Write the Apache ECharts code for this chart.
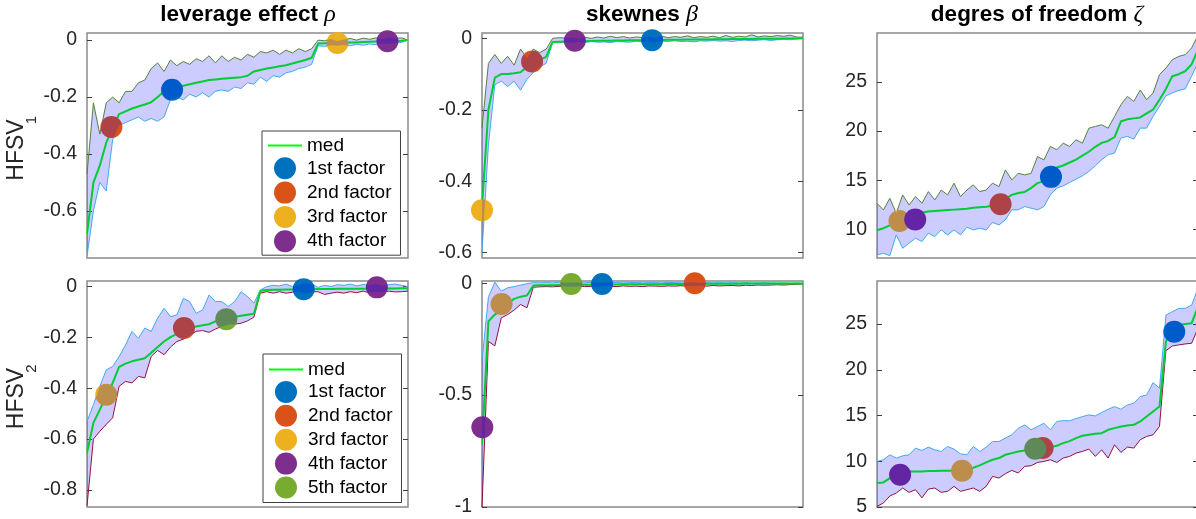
<!DOCTYPE html>
<html><head><meta charset="utf-8">
<script src="https://cdn.jsdelivr.net/npm/echarts@6/dist/echarts.min.js"></script>
<style>html,body{margin:0;padding:0;background:#fff}#c{width:1196px;height:519px}</style>
</head><body><div id="c"></div>
<script>
// ---------- DATA ----------
const xGrid = [0,2,4,6,8,10,12,14,16,18,20,22,24,26,28,30,32,34,36,38,40,42,44,46,48,50,52,54,56,58,60,62,64,66,68,70,72,74,76,78,80,82,84,86,88,90,92,94,96,98,100];

const titles = ['leverage effect', 'skewnes', 'degres of freedom'];
const greek = ['ρ', 'β', 'ζ'];
const rowLabels = ['HFSV', 'HFSV'];
const rowSubs = ['1', '2'];
const factorNames = ['1st factor','2nd factor','3rd factor','4th factor','5th factor'];

// Panel 1: leverage effect, HFSV1
const p1Med = [-0.68,-0.5,-0.44,-0.36,-0.31,-0.26,-0.25,-0.24,-0.233,-0.226,-0.218,-0.2,-0.18,-0.17,-0.165,-0.16,-0.155,-0.15,-0.145,-0.14,-0.138,-0.136,-0.134,-0.132,-0.13,-0.125,-0.11,-0.105,-0.1,-0.096,-0.092,-0.088,-0.082,-0.076,-0.07,-0.062,-0.012,-0.011,-0.01,-0.01,-0.009,-0.008,-0.008,-0.007,-0.006,-0.005,-0.004,-0.003,-0.003,-0.002,0];
const p1Up = [-0.47,-0.22,-0.33,-0.22,-0.2,-0.22,-0.18,-0.18,-0.15,-0.14,-0.1,-0.08,-0.11,-0.07,-0.09,-0.075,-0.085,-0.065,-0.075,-0.055,-0.08,-0.055,-0.075,-0.06,-0.07,-0.05,-0.06,-0.04,-0.045,-0.035,-0.05,-0.035,-0.045,-0.03,-0.04,-0.03,0.0,-0.002,0.004,-0.003,0.002,0.006,0.0,0.007,0.003,0.008,0.004,0.01,0.006,0.008,0];
const p1Lo = [-0.76,-0.6,-0.5,-0.53,-0.35,-0.3,-0.29,-0.28,-0.27,-0.285,-0.275,-0.285,-0.27,-0.21,-0.2,-0.21,-0.19,-0.2,-0.185,-0.2,-0.18,-0.175,-0.18,-0.165,-0.17,-0.15,-0.155,-0.13,-0.145,-0.125,-0.13,-0.115,-0.11,-0.1,-0.095,-0.085,-0.02,-0.022,-0.018,-0.02,-0.017,-0.02,-0.015,-0.018,-0.014,-0.016,-0.012,-0.014,-0.01,-0.008,0];
const p1DotX = [26.5, 7.6, 78, 93.6];
const p1DotY = [-0.174, -0.305, -0.01, -0.004];
const p1Ticks = [0, -0.2, -0.4, -0.6];

// Panel 2: skewness, HFSV1
const p2Med = [-0.47,-0.2,-0.11,-0.1,-0.1,-0.098,-0.095,-0.08,-0.066,-0.06,-0.052,-0.01,-0.0095,-0.009,-0.0085,-0.008,-0.008,-0.0075,-0.007,-0.007,-0.0065,-0.006,-0.006,-0.0055,-0.005,-0.005,-0.0048,-0.0045,-0.0043,-0.004,-0.004,-0.0038,-0.0035,-0.0033,-0.003,-0.003,-0.0028,-0.0025,-0.0023,-0.002,-0.002,-0.0018,-0.0016,-0.0014,-0.0012,-0.001,-0.0008,-0.0006,-0.0004,-0.0002,0];
const p2Up = [-0.25,-0.07,-0.045,-0.07,-0.05,-0.075,-0.03,-0.055,-0.03,-0.04,-0.03,0.0,0.002,0.001,0.003,-0.001,0.003,0.0,0.004,0.001,0.006,0.002,0.005,0.001,0.004,0.002,0.005,0.001,0.006,0.002,0.005,0.003,0.007,0.002,0.005,0.003,0.006,0.002,0.008,0.003,0.006,0.004,0.01,0.004,0.007,0.005,0.008,0.006,0.009,0.004,0.003];
const p2Lo = [-0.6,-0.3,-0.13,-0.12,-0.135,-0.12,-0.145,-0.115,-0.095,-0.08,-0.07,-0.012,-0.012,-0.011,-0.013,-0.01,-0.012,-0.009,-0.011,-0.01,-0.012,-0.009,-0.01,-0.011,-0.008,-0.01,-0.009,-0.011,-0.008,-0.009,-0.007,-0.009,-0.008,-0.01,-0.007,-0.008,-0.006,-0.008,-0.007,-0.009,-0.006,-0.005,-0.007,-0.005,-0.004,-0.006,-0.004,-0.003,-0.004,-0.002,-0.001];
const p2DotX = [53, 15.6, 0, 28.9];
const p2DotY = [-0.005, -0.065, -0.481, -0.0065];
const p2Ticks = [0, -0.2, -0.4, -0.6];

// Panel 3: degrees of freedom, HFSV1
const p3Med = [9.9,10.1,10.4,10.8,11.2,11.5,11.6,11.7,11.8,11.85,11.9,11.95,12.0,12.05,12.1,12.2,12.25,12.3,12.4,12.8,13.1,13.5,13.7,13.8,14.2,14.7,14.9,15.8,16.3,16.5,16.8,17.1,17.5,17.9,18.4,18.8,19.0,19.4,21.0,21.2,21.3,21.4,21.8,22.2,23.2,24.3,25.6,25.8,26.1,26.8,28.3];
const p3Up = [12.65,11.97,13.16,11.63,13.5,12.48,13.33,12.65,13.84,12.99,14.0,13.5,14.7,13.33,14.0,14.52,13.84,14.0,14.7,14.35,16.05,15.03,15.71,15.54,15.71,17.41,17.07,18.44,18.1,18.78,18.44,19.12,18.78,20.3,20.48,20.65,20.3,21.5,22.7,23.54,23.03,24.2,23.2,23.88,25.75,26.43,27.28,27.62,27.79,28.47,29.8];
const p3Lo = [7.38,7.55,7.3,9.42,8.06,8.57,9.08,8.74,9.59,9.25,9.93,9.42,9.93,9.42,10.2,9.93,10.1,9.93,10.68,10.44,10.95,11.97,11.97,12.31,12.14,11.97,12.31,13.5,14.18,14.42,14.76,15.1,15.44,15.88,16.46,17.07,17.59,17.76,19.29,19.46,19.18,20.3,20.3,21.5,22.52,23.6,23.88,24.15,24.29,25.58,26.94];
const p3DotX = [54.2, 38.5, 7.0, 11.9];
const p3DotY = [15.34, 12.55, 10.85, 11.0];
const p3Ticks = [10, 15, 20, 25];

// Panel 4: leverage effect, HFSV2
const p4Med = [-0.654,-0.536,-0.484,-0.431,-0.379,-0.316,-0.303,-0.294,-0.288,-0.282,-0.26,-0.238,-0.216,-0.199,-0.186,-0.17,-0.163,-0.157,-0.152,-0.148,-0.137,-0.131,-0.124,-0.119,-0.115,-0.111,-0.107,-0.016,-0.013,-0.012,-0.012,-0.011,-0.011,-0.0105,-0.01,-0.01,-0.009,-0.009,-0.009,-0.0088,-0.0086,-0.0084,-0.0082,-0.008,-0.0078,-0.0076,-0.0074,-0.0072,-0.0072,-0.007,-0.007];
const p4Up = [-0.53,-0.464,-0.392,-0.327,-0.314,-0.275,-0.229,-0.176,-0.203,-0.163,-0.176,-0.124,-0.085,-0.118,-0.111,-0.046,-0.059,-0.105,-0.092,-0.033,-0.059,-0.059,-0.078,-0.059,-0.02,-0.039,-0.065,-0.013,0,0.005,0.003,0.01,0,0.007,0.016,0.01,-0.003,0.005,0,0.008,0.005,0.01,0.003,0.008,0.005,0.01,0.003,0.008,0.01,0.005,0];
const p4Lo = [-0.863,-0.6,-0.569,-0.542,-0.516,-0.392,-0.373,-0.379,-0.353,-0.359,-0.275,-0.251,-0.268,-0.238,-0.216,-0.207,-0.193,-0.176,-0.173,-0.18,-0.167,-0.157,-0.15,-0.148,-0.144,-0.135,-0.12,-0.026,-0.02,-0.026,-0.02,-0.026,-0.022,-0.021,-0.026,-0.021,-0.02,-0.031,-0.026,-0.022,-0.026,-0.02,-0.024,-0.018,-0.024,-0.02,-0.021,-0.018,-0.021,-0.02,-0.018];
const p4DotX = [67.5, 30.2, 6.0, 90.3, 43.4];
const p4DotY = [-0.01, -0.163, -0.425, -0.003, -0.128];
const p4Ticks = [0, -0.2, -0.4, -0.6, -0.8];

// Panel 5: skewness, HFSV2
const p5Med = [-0.72,-0.17,-0.14,-0.12,-0.09,-0.07,-0.06,-0.055,-0.01,-0.009,-0.009,-0.0085,-0.008,-0.008,-0.0075,-0.007,-0.007,-0.0065,-0.006,-0.006,-0.0055,-0.0055,-0.005,-0.005,-0.0048,-0.0046,-0.0044,-0.0042,-0.004,-0.0038,-0.0036,-0.0034,-0.0032,-0.003,-0.0028,-0.0026,-0.0024,-0.0022,-0.002,-0.0019,-0.0018,-0.0017,-0.0016,-0.0015,-0.0014,-0.0013,-0.0012,-0.0011,-0.001,-0.0009,-0.0008];
const p5Up = [-0.344,-0.06,0.005,-0.035,-0.02,-0.015,-0.008,-0.002,0.003,0.002,0.003,0.002,0.004,0.002,0.003,0.003,0.002,0.004,0.003,0.002,0.004,0.003,0.002,0.003,0.004,0.002,0.003,0.003,0.002,0.004,0.003,0.002,0.003,0.004,0.002,0.003,0.002,0.003,0.002,0.003,0.002,0.003,0.002,0.002,0.003,0.002,0.002,0.002,0.001,0.002,0.001];
const p5Lo = [-1.0,-0.26,-0.28,-0.155,-0.14,-0.12,-0.095,-0.11,-0.018,-0.016,-0.015,-0.016,-0.014,-0.015,-0.016,-0.013,-0.015,-0.014,-0.016,-0.013,-0.014,-0.015,-0.012,-0.014,-0.013,-0.015,-0.012,-0.013,-0.014,-0.012,-0.013,-0.011,-0.014,-0.012,-0.011,-0.013,-0.01,-0.012,-0.011,-0.01,-0.012,-0.009,-0.01,-0.008,-0.009,-0.008,-0.007,-0.008,-0.006,-0.005,-0.004];
const p5DotX = [37.4, 66.3, 6.1, 0.1, 27.8];
const p5DotY = [-0.003, 0, -0.093, -0.644, -0.003];
const p5Ticks = [0, -0.5, -1];

// Panel 6: degrees of freedom, HFSV2
const p6Med = [7.62,7.69,8.16,8.64,8.82,8.89,8.89,8.89,8.93,8.93,8.96,8.96,9.0,9.04,9.15,9.29,9.55,9.87,10.16,10.35,10.71,10.89,11.07,11.18,11.25,11.4,11.51,11.55,11.69,11.98,12.2,12.53,12.78,12.89,13.0,13.07,13.44,13.62,13.8,13.91,13.98,14.35,14.89,15.44,15.98,23.07,24.7,24.89,25.0,25.07,26.9];
const p6Up = [9.98,10.16,10.71,10.35,10.6,10.71,11.44,11.18,11.55,11.25,11.07,11.62,11.33,10.82,10.71,11.62,11.07,11.55,12.16,12.16,12.53,12.89,13.62,13.98,13.44,13.8,14.16,13.44,14.35,14.45,14.42,14.67,14.89,15.07,14.96,15.33,15.69,15.98,15.69,16.16,16.35,17.07,17.25,18.6,18.0,25.98,26.35,26.71,26.71,27.07,28.9];
const p6Lo = [5.07,5.44,6.2,6.53,7.07,6.6,6.89,6.0,6.96,7.07,6.6,6.71,7.25,6.71,6.89,7.07,6.71,7.25,8.35,8.16,8.64,9.0,8.71,9.44,9.51,9.87,9.98,10.16,9.87,10.35,10.53,10.89,11.07,11.33,10.53,11.25,10.35,11.8,10.96,11.55,11.44,12.35,12.71,12.89,13.8,22.09,22.6,22.71,22.82,22.89,24.53];
const p6DotX = [92.6, 51.6, 26.5, 7.2, 49.3];
const p6DotY = [24.16, 11.44, 8.96, 8.53, 11.36];
const p6Ticks = [5, 10, 15, 20, 25];

// ---------- STYLE / LAYOUT ----------
const FONT = '"Liberation Sans", Arial, Helvetica, sans-serif';
const factorColors = ['#0072BD','#D95319','#EDB120','#7E2F8E','#77AC30'];
const medColor = '#00ff00';
const bandColor = 'rgba(0,0,255,0.2)';

const panels = [
  {med:p1Med, up:p1Up, lo:p1Lo, dx:p1DotX, dy:p1DotY, ticks:p1Ticks, yMin:-0.765, yMax:0.025, upC:'#5f8f2f', loC:'#4DBEEE', box:{left:87, top:33, width:321, height:225}},
  {med:p2Med, up:p2Up, lo:p2Lo, dx:p2DotX, dy:p2DotY, ticks:p2Ticks, yMin:-0.615, yMax:0.015, upC:'#5f8f2f', loC:'#4DBEEE', box:{left:482, top:33, width:321, height:225}},
  {med:p3Med, up:p3Up, lo:p3Lo, dx:p3DotX, dy:p3DotY, ticks:p3Ticks, yMin:7.07, yMax:30.0, upC:'#5f8f2f', loC:'#4DBEEE', box:{left:877, top:33, width:321, height:225}},
  {med:p4Med, up:p4Up, lo:p4Lo, dx:p4DotX, dy:p4DotY, ticks:p4Ticks, yMin:-0.867, yMax:0.022, upC:'#4DBEEE', loC:'#A2142F', box:{left:87, top:281, width:321, height:226}},
  {med:p5Med, up:p5Up, lo:p5Lo, dx:p5DotX, dy:p5DotY, ticks:p5Ticks, yMin:-1.0, yMax:0.01, upC:'#4DBEEE', loC:'#A2142F', box:{left:482, top:281, width:321, height:226}},
  {med:p6Med, up:p6Up, lo:p6Lo, dx:p6DotX, dy:p6DotY, ticks:p6Ticks, yMin:5, yMax:29.7, upC:'#4DBEEE', loC:'#A2142F', box:{left:877, top:281, width:321, height:226}}
];

const zip = (xs, ys) => xs.map((x, i) => [x, ys[i]]);

const grid = [], xAxis = [], yAxis = [], series = [];
panels.forEach((p, i) => {
  grid.push(Object.assign({show:true, borderColor:'#8a8a8a', borderWidth:1.5, backgroundColor:'transparent', containLabel:false, outerBoundsMode:'none'}, p.box));
  xAxis.push({gridIndex:i, type:'value', min:0, max:100, show:false});
  const tickStyle = {show:true, inside:true, length:5, customValues:p.ticks, lineStyle:{color:'#404040', width:1}};
  yAxis.push({
    gridIndex:i, type:'value', min:p.yMin, max:p.yMax, position:'left',
    axisLine:{show:false}, splitLine:{show:false},
    axisTick:tickStyle,
    axisLabel:{show:true, customValues:p.ticks, fontSize:19.5, color:'#262626', fontFamily:FONT, margin:10}
  });
  yAxis.push({gridIndex:i, type:'value', min:p.yMin, max:p.yMax, position:'right',
    axisLine:{show:false}, splitLine:{show:false}, axisLabel:{show:false}, axisTick:tickStyle});
  const common = {xAxisIndex:i, yAxisIndex:2*i, silent:true, animation:false};
  series.push(Object.assign({type:'line', data:zip(xGrid, p.lo), symbol:'none', z:2,
    lineStyle:{color:p.loC, width:1}, itemStyle:{color:p.loC}}, common));
  series.push(Object.assign({type:'line', data:zip(xGrid, p.up), symbol:'none', z:2,
    lineStyle:{color:p.upC, width:1}, itemStyle:{color:p.upC}}, common));
  series.push(Object.assign({type:'line', name:'med', data:zip(xGrid, p.med), symbol:'none', z:2,
    lineStyle:{color:medColor, width:2}, itemStyle:{color:medColor}}, common));
  p.dx.forEach((x, j) => {
    series.push(Object.assign({type:'scatter', name:factorNames[j], data:[[x, p.dy[j]]], symbol:'circle', symbolSize:22,
      clip:false, z:3, itemStyle:{color:factorColors[j], opacity:1}}, common));
  });
  // band between lower and upper, drawn on top (semi-transparent) as in the original
  series.push(Object.assign({type:'custom', z:5, clip:true, data:[[0, 0]],
    renderItem:(params, api) => {
      const pts = [];
      for (let k = 0; k < xGrid.length; k++) pts.push(api.coord([xGrid[k], p.up[k]]));
      for (let k = xGrid.length - 1; k >= 0; k--) pts.push(api.coord([xGrid[k], p.lo[k]]));
      return {type:'polygon', shape:{points:pts}, style:{fill:bandColor, stroke:null}};
    }}, common));
});

const legendBase = {
  orient:'vertical', itemWidth:34, itemHeight:22, selectedMode:false, z:20,
  backgroundColor:'#ffffff', borderColor:'#404040', borderWidth:1, borderRadius:0,
  textStyle:{fontSize:19, color:'#000', fontFamily:FONT}
};
const medIcon = 'path://M0,0L34,0L34,2L0,2Z';
const legendItems = (n) => [{name:'med', icon:medIcon}].concat(factorNames.slice(0, n).map(nm => ({name:nm, icon:'circle'})));
const legend = [
  Object.assign({}, legendBase, {data:legendItems(4), left:262, top:131, itemGap:2.3, padding:[5,9,3,6]}),
  Object.assign({}, legendBase, {data:legendItems(5), left:263, top:354, itemGap:1.9, padding:[6,9,4,6]})
];

const titleX = [248, 642, 1037];
const graphic = titles.map((t, i) => ({
  type:'text', x:titleX[i], y:15, z:30,
  style:{text:t + ' {g|' + greek[i] + '}', fill:'#000', fontSize:22.5, fontWeight:'bold', fontFamily:FONT,
    align:'center', verticalAlign:'middle',
    rich:{g:{fontSize:24, fontStyle:'italic', fontWeight:'normal', fontFamily:'"Liberation Serif", "DejaVu Serif", serif', fill:'#000'}}}
}));
// row labels HFSV_1 / HFSV_2 (rotated, with subscript)
const rowCenters = [150, 398.5];
rowCenters.forEach((cy, r) => {
  graphic.push({type:'text', x:16.5, y:cy, rotation:Math.PI/2, z:30,
    style:{text:rowLabels[r], fill:'#262626', fontSize:23, fontFamily:FONT, align:'center', verticalAlign:'middle'}});
  graphic.push({type:'text', x:32, y:cy - 30, rotation:Math.PI/2, z:30,
    style:{text:rowSubs[r], fill:'#262626', fontSize:15, fontFamily:FONT, align:'center', verticalAlign:'middle'}});
});

const chart = echarts.init(document.getElementById('c'), null, {renderer:'canvas'});
chart.setOption({animation:false, backgroundColor:'#fff', grid, xAxis, yAxis, series, legend, graphic, tooltip:{show:false}});
</script></body></html>
